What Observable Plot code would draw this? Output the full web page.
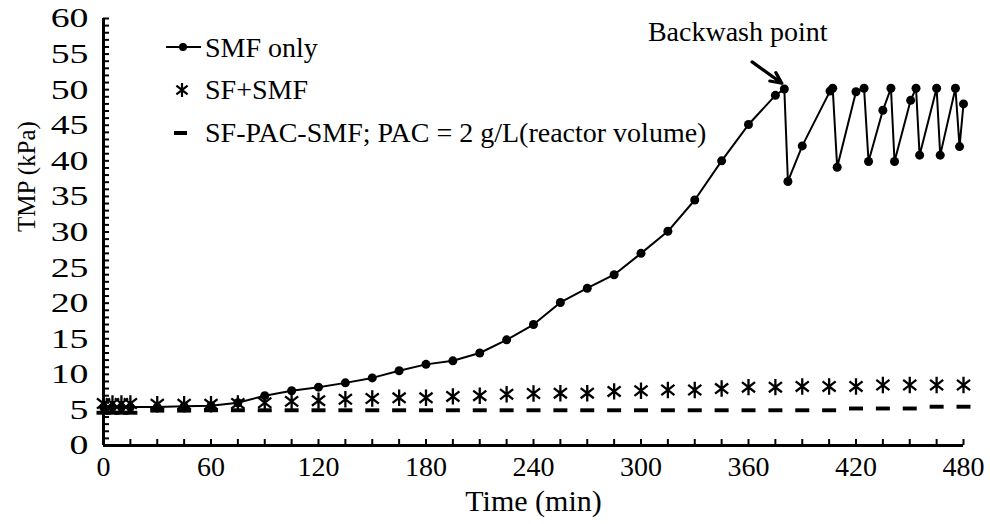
<!DOCTYPE html>
<html>
<head>
<meta charset="utf-8">
<script src="https://cdn.jsdelivr.net/npm/d3@7"></script>
<script src="https://cdn.jsdelivr.net/npm/@observablehq/plot@0.6"></script>
<style>
  html, body { margin: 0; padding: 0; background: #fff; }
  #wrap { position: relative; width: 990px; height: 524px; font-family: "Liberation Serif", "Times New Roman", serif; }
  #legend { position: absolute; left: 150px; top: 20px; }
</style>
</head>
<body>
<div id="wrap"></div>
<script>
// ---- Data ----
const smfTime = [0,5,10,15,30,45,60,75,90,105,120,135,150,165,180,195,210,225,240,255,270,285,300,315,330,345,360,375,380,382,390,405.5,407,409.5,420,424.5,427,435,439.5,441.5,450.5,453.5,455.5,465,467,475.5,477.8,480];
const smfTMP  = [5.4,5.4,5.4,5.4,5.4,5.5,5.6,6.0,7.0,7.7,8.2,8.8,9.5,10.5,11.4,11.9,13.0,14.85,17.0,20.1,22.1,24.0,27.0,30.1,34.5,40.0,45.1,49.2,50.1,37.1,42.1,49.8,50.2,39.1,49.7,50.2,39.9,47.1,50.2,39.9,48.5,50.2,40.8,50.2,40.8,50.2,42.0,48.0];

const sfTime = [0,5,10,15,30,45,60,75,90,105,120,135,150,165,180,195,210,225,240,255,270,285,300,315,330,345,360,375,390,405,420,435,450,465,480];
const sfTMP  = [5.9,5.9,5.9,5.9,5.8,5.8,5.8,5.9,6.0,6.2,6.3,6.5,6.6,6.7,6.7,6.9,7.0,7.2,7.3,7.35,7.35,7.6,7.7,7.8,7.8,8.0,8.2,8.2,8.3,8.3,8.3,8.5,8.5,8.5,8.5];

const pacTime = sfTime;
const pacTMP  = [4.6,4.6,4.6,4.6,4.9,4.9,4.95,4.95,4.95,4.95,4.95,4.95,4.95,4.95,4.95,4.95,4.95,4.95,4.95,4.95,4.95,4.95,4.95,4.95,4.95,4.95,4.95,4.95,4.95,4.95,5.2,5.2,5.2,5.45,5.45];

const xMajorTicks = [0,60,120,180,240,300,360,420,480];
const xMinorTicks = d3.range(0, 481, 15);
const yMajorTicks = [0,5,10,15,20,25,30,35,40,45,50,55,60];
const yMinorTicks = d3.range(0, 61, 1);

const xTitle = "Time (min)";
const yTitle = "TMP (kPa)";
const legendLabels = ["SMF only", "SF+SMF", "SF-PAC-SMF; PAC = 2 g/L(reactor volume)"];
const annotation = [{text: "Backwash point", x: 354, y: 56.9, ax1: 362, ay1: 53.9, ax2: 378.6, ay2: 50.9}];

// ---- Build ----
const smf = smfTime.map((t, i) => ({t, v: smfTMP[i]}));
const sf = sfTime.map((t, i) => ({t, v: sfTMP[i]}));
const pac = pacTime.map((t, i) => ({t, v: pacTMP[i]}));

const dashSymbol = {
  draw(ctx, size) {
    const r = Math.sqrt(size / Math.PI);
    ctx.rect(-r, -r * 0.28, 2 * r, r * 0.56);
  }
};
const starSymbol = {
  draw(ctx, size) {
    const r = Math.sqrt(size / Math.PI);
    const a = r * 0.8, b = r * 0.62;
    ctx.moveTo(0, -r); ctx.lineTo(0, r);
    ctx.moveTo(-a, -b); ctx.lineTo(a, b);
    ctx.moveTo(-a, b); ctx.lineTo(a, -b);
  }
};

const FONT = "Liberation Serif";
const blank = () => "";

const chart = Plot.plot({
  width: 990,
  height: 524,
  marginLeft: 103,
  marginRight: 27,
  marginTop: 18,
  marginBottom: 79,
  style: {fontFamily: FONT, color: "#000", background: "#fff", overflow: "visible"},
  x: {domain: [0, 480]},
  y: {domain: [0, 60]},
  marks: [
    // inward ticks
    Plot.axisX({ticks: xMinorTicks, tickSize: -6, tickFormat: blank, strokeWidth: 2, label: null}),
    Plot.axisX({ticks: xMajorTicks, tickSize: 0, tickPadding: 11, fontSize: 28, label: null, tickFormat: d => String(d)}),
    Plot.axisY({ticks: yMinorTicks, tickSize: -6, tickFormat: blank, strokeWidth: 2, label: null}),
    Plot.axisY({ticks: yMajorTicks, tickSize: 0, tickPadding: 15, fontSize: 28, label: null, tickFormat: d => String(d)}),
    Plot.ruleY([0], {strokeWidth: 3}),
    Plot.ruleX([0], {strokeWidth: 3}),
    // axis titles
    Plot.text([xTitle], {frameAnchor: "bottom", dy: 56, lineAnchor: "middle", fontSize: 30, fill: "black"}),
    Plot.text([yTitle], {frameAnchor: "left", dx: -77, rotate: -90, lineAnchor: "middle", fontSize: 25, fill: "black"}),
    // series
    Plot.dot(pac, {x: "t", y: "v", symbol: dashSymbol, r: 7, fill: "#000", stroke: "none"}),
    Plot.line(smf, {x: "t", y: "v", stroke: "#000", strokeWidth: 2}),
    Plot.dot(smf, {x: "t", y: "v", r: 4.5, fill: "#000", stroke: "none"}),
    Plot.dot(sf, {x: "t", y: "v", symbol: starSymbol, r: 8.2, stroke: "#000", strokeWidth: 2.3, fill: "none"}),
    // annotation
    Plot.text(annotation, {x: "x", y: "y", text: "text", fontSize: 28, textAnchor: "middle", lineAnchor: "bottom", fill: "#000"}),
    Plot.arrow(annotation, {x1: "ax1", y1: "ay1", x2: "ax2", y2: "ay2", stroke: "#000", strokeWidth: 3.2, headLength: 14, headAngle: 50})
  ]
});

// stretch y tick labels horizontally like the reference (anchored at right edge)
chart.querySelectorAll('g[aria-label="y-axis tick label"] text').forEach(t => {
  const tr = t.getAttribute("transform");
  if (tr) {
    t.setAttribute("transform", tr + " scale(1.35,1)");
  } else {
    const x = +(t.getAttribute("x") || 0), y = +(t.getAttribute("y") || 0);
    t.removeAttribute("x"); t.removeAttribute("y");
    t.setAttribute("transform", `translate(${x},${y}) scale(1.35,1)`);
  }
});

const wrap = document.getElementById("wrap");
wrap.appendChild(chart);

// ---- Legend ----
const ns = "http://www.w3.org/2000/svg";
const leg = document.createElementNS(ns, "svg");
leg.setAttribute("id", "legend");
leg.setAttribute("width", "600");
leg.setAttribute("height", "140");
const rowsY = [27, 70, 113];
const baseY = [37, 79, 122];
legendLabels.forEach((lab, i) => {
  const cy = rowsY[i];
  if (i === 0) {
    const l = document.createElementNS(ns, "line");
    l.setAttribute("x1", 16); l.setAttribute("x2", 51); l.setAttribute("y1", cy); l.setAttribute("y2", cy);
    l.setAttribute("stroke", "#000"); l.setAttribute("stroke-width", 2);
    leg.appendChild(l);
    const c = document.createElementNS(ns, "circle");
    c.setAttribute("cx", 33); c.setAttribute("cy", cy); c.setAttribute("r", 4);
    leg.appendChild(c);
  } else if (i === 1) {
    const p = document.createElementNS(ns, "path");
    p.setAttribute("d", d3.symbol(starSymbol, Math.PI * 49)());
    p.setAttribute("transform", `translate(32,${cy})`);
    p.setAttribute("stroke", "#000"); p.setAttribute("stroke-width", 2.2); p.setAttribute("fill", "none");
    leg.appendChild(p);
  } else {
    const r = document.createElementNS(ns, "rect");
    r.setAttribute("x", 24); r.setAttribute("y", cy - 2); r.setAttribute("width", 13); r.setAttribute("height", 4);
    leg.appendChild(r);
  }
  const t = document.createElementNS(ns, "text");
  t.setAttribute("x", 55); t.setAttribute("y", baseY[i]);
  t.setAttribute("font-family", FONT); t.setAttribute("font-size", 28);
  t.textContent = lab;
  leg.appendChild(t);
});
wrap.appendChild(leg);
</script>
</body>
</html>
